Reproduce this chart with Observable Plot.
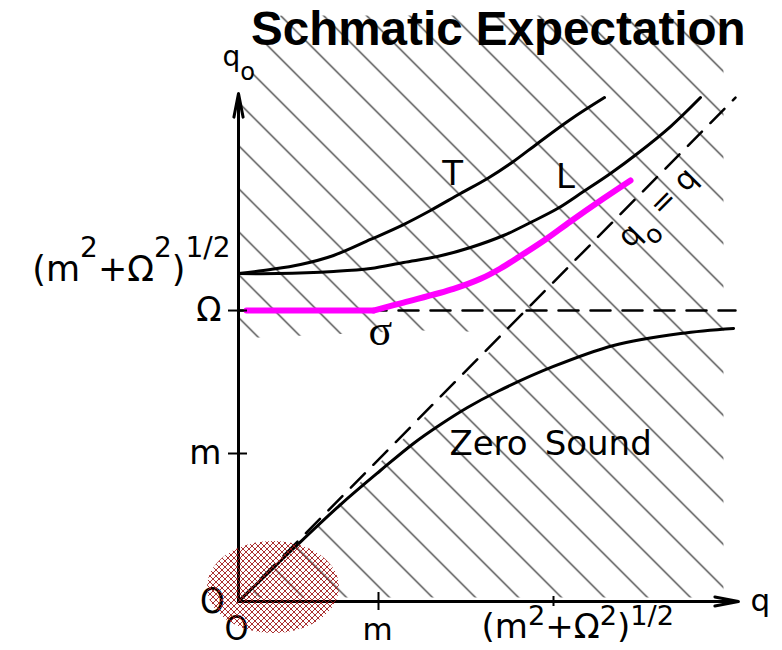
<!DOCTYPE html>
<html>
<head>
<meta charset="utf-8">
<script src="https://cdn.jsdelivr.net/npm/d3@7"></script>
<script src="https://cdn.jsdelivr.net/npm/@observablehq/plot@0.6"></script>
<style>
  html, body { margin: 0; padding: 0; background: #fff; }
  #wrap { position: relative; width: 782px; height: 650px; overflow: hidden; }
  #wrap svg { position: absolute; left: 0; top: 0; }
  #title {
    position: absolute; left: 251px; top: 5px; margin: 0; z-index: 2;
    font: bold 47.6px "Liberation Sans", Arial, sans-serif; line-height: 1;
    color: #000; white-space: nowrap;
  }
</style>
</head>
<body>
<div id="wrap"><h1 id="title">Schmatic Expectation</h1></div>
<script>
// Dispersion branches, momentum q (horizontal) vs energy q0 (vertical), both in units of m.
const transverse = [[0,2.216],[0.229,2.243],[0.443,2.277],[0.679,2.338],[0.943,2.446],[1.179,2.547],
  [1.371,2.642],[1.586,2.757],[1.779,2.858],[1.964,2.973],[2.136,3.095],[2.371,3.257],[2.614,3.405]];
const longitudinal = [[0,2.216],[0.279,2.216],[0.679,2.230],[0.943,2.250],[1.179,2.291],[1.421,2.331],
  [1.657,2.392],[1.893,2.473],[2.086,2.561],[2.279,2.655],[2.464,2.770],[2.657,2.892],[2.85,3.027],
  [3.086,3.209],[3.3,3.405]];
const sigmaMode = [[0.057,1.966],[0.964,1.966],[1.179,2.020],[1.536,2.112],[1.729,2.180],[1.871,2.250],
  [2.014,2.335],[2.193,2.446],[2.371,2.568],[2.607,2.723],[2.8,2.845]];
const zeroSound = [[0,0],[0.193,0.176],[0.393,0.358],[0.729,0.655],[1.014,0.885],[1.25,1.068],
  [1.443,1.196],[1.636,1.311],[1.85,1.419],[2.25,1.588],[2.679,1.730],[3.157,1.811],[3.536,1.845]];
const lightCone = [[0,0],[3.55,3.405]];          // q0 = q
const omegaLine = [[0,1.966],[3.55,1.966]];      // q0 = Ω
// Outline of the hatched (damped / continuum) region
const continuum = [[0,3.264],[0.086,3.554],[0.3,3.959],[3.464,3.959],[3.464,0.027],[0.057,0.027],
  [1.929,1.818],[1.3,1.831],[0,1.777]];
// Highlighted soft region at the origin
const blob = {q: 0.25, q0: 0.095, rq: 0.471, rq0: 0.311};

// Axis ticks and their labels
const yTicks = [1, 1.966, 2.216];
const yTickLabels = ["m", "Ω", "(m^{2}+Ω^{2})^{1/2}"];
const xTicks = [1, 2.25];
const xTickLabels = ["m", "(m^{2}+Ω^{2})^{1/2}"];
const axisEnd = {q: 3.571, q0: 3.432};

// Curve annotations
const annotations = [
  {q: 1.529, q0: 2.885, text: "T"},
  {q: 2.336, q0: 2.868, text: "L"},
  {q: 2.229, q0: 1.061, text: "Zero\u2002Sound"}
];
const sigmaLabel = [{q: 1.014, q0: 1.831, text: "σ"}];
const coneLabel = [{q: 2.993, q0: 2.662, text: "q_{o} = q"}];

const xDomain = [0, 1], xRange = [238, 378];
const yDomain = [0, 1], yRange = [601, 453];
const SANS = "DejaVu Sans, sans-serif";
const NARROW = "Liberation Sans Narrow, DejaVu Sans Condensed, sans-serif";
const px = d => d[0], py = d => d[1];

function patterns() {
  const defs = d3.create("svg:defs");
  defs.append("pattern").attr("id", "hatch").attr("patternUnits", "userSpaceOnUse")
    .attr("width", 43).attr("height", 43).attr("y", -7)
    .append("path").attr("d", "M-1,-1L44,44M42,-1L44,1M-1,42L1,44")
    .attr("stroke", "#111").attr("stroke-width", 1.1).attr("fill", "none");
  const x = defs.append("pattern").attr("id", "xhatch").attr("patternUnits", "userSpaceOnUse")
    .attr("width", 6).attr("height", 6);
  x.append("path").attr("d", "M-1,-1L7,7M5,-1L7,1M-1,5L1,7M7,-1L-1,7M1,-1L-1,1M7,5L5,7")
    .attr("stroke", "#a01a1a").attr("stroke-width", 0.9).attr("fill", "none");
  return defs.node();
}

function crosshatchBlob(index, scales) {
  const sx = scales && typeof scales.x === "function" ? scales.x : d3.scaleLinear(xDomain, xRange);
  const sy = scales && typeof scales.y === "function" ? scales.y : d3.scaleLinear(yDomain, yRange);
  return d3.create("svg:ellipse")
    .attr("cx", sx(blob.q)).attr("cy", sy(blob.q0))
    .attr("rx", Math.abs(sx(blob.q + blob.rq) - sx(blob.q)))
    .attr("ry", Math.abs(sy(blob.q0 + blob.rq0) - sy(blob.q0)))
    .attr("fill", "url(#xhatch)").node();
}

const yTickTable = yTicks.map((v, i) => ({v, label: yTickLabels[i]}));
const xTickTable = xTicks.map((v, i) => ({v, label: xTickLabels[i]}));
const dash = "20,12";
const arrowHead = {stroke: "#000", strokeWidth: 3, headAngle: 22, headLength: 12};

const chart = Plot.plot({
  width: 782, height: 650,
  marginTop: 0, marginRight: 0, marginBottom: 0, marginLeft: 0,
  x: {domain: xDomain, range: xRange, axis: null},
  y: {domain: yDomain, range: yRange, axis: null},
  style: {background: "white", overflow: "visible"},
  marks: [
    patterns,
    Plot.line(continuum, {x: px, y: py, fill: "url(#hatch)", stroke: "none"}),
    Plot.line(omegaLine, {x: px, y: py, stroke: "#000", strokeWidth: 2.5, strokeDasharray: dash}),
    Plot.line(lightCone, {x: px, y: py, stroke: "#000", strokeWidth: 2.5, strokeDasharray: dash}),
    Plot.line(transverse, {x: px, y: py, curve: "catmull-rom", stroke: "#000", strokeWidth: 3}),
    Plot.line(longitudinal, {x: px, y: py, curve: "catmull-rom", stroke: "#000", strokeWidth: 3}),
    Plot.line(zeroSound, {x: px, y: py, curve: "catmull-rom", stroke: "#000", strokeWidth: 3}),
    Plot.line(sigmaMode.slice(0, 2), {x: px, y: py, stroke: "#ff00ff", strokeWidth: 6}),
    Plot.line(sigmaMode.slice(1), {x: px, y: py, curve: "catmull-rom", stroke: "#ff00ff", strokeWidth: 6}),
    // axes with arrow heads
    Plot.arrow([axisEnd], {x1: 0, y1: 0, x2: d => d.q, y2: 0, ...arrowHead}),
    Plot.arrow([axisEnd], {x1: 0, y1: 0, x2: 0, y2: d => d.q0, ...arrowHead}),
    // tick marks
    Plot.ruleY(yTicks.slice(0, 2), {y: d => d, x1: 0, x2: 0, insetLeft: -10, insetRight: -9,
      stroke: "#000", strokeWidth: 2}),
    Plot.ruleX(xTicks.slice(0, 1), {x: d => d, y1: 0, y2: 0, insetTop: -9, insetBottom: -9,
      stroke: "#000", strokeWidth: 2}),
    Plot.ruleX(xTicks.slice(1), {x: d => d, y1: 0, y2: 0, insetTop: -5, insetBottom: -5,
      stroke: "#000", strokeWidth: 2}),
    // tick labels
    Plot.text(yTickTable.slice(0, 2), {x: 0, y: "v", text: "label", textAnchor: "end", dx: -17,
      fontSize: 33, fontFamily: SANS}),
    Plot.text(yTickTable.slice(2), {x: 0, y: "v", text: "label", textAnchor: "end", dx: -8, dy: -4,
      fontSize: 35, fontFamily: SANS, ariaDescription: "raise-high"}),
    Plot.text(xTickTable.slice(0, 1), {x: "v", y: 0, text: "label", dx: -1, dy: 29,
      fontSize: 31, fontFamily: SANS}),
    Plot.text(xTickTable.slice(1), {x: "v", y: 0, text: "label", textAnchor: "start", dx: -72, dy: 26,
      fontSize: 34, fontFamily: SANS, ariaDescription: "raise-low"}),
    Plot.text(["O"], {x: 0, y: 0, text: d => d, dx: -26, dy: 0, fontSize: 35, fontFamily: NARROW}),
    Plot.text(["O"], {x: 0, y: 0, text: d => d, dx: -2, dy: 28, fontSize: 34, fontFamily: NARROW}),
    // axis names
    Plot.text([axisEnd], {x: d => d.q, y: 0, text: () => "q", textAnchor: "start", dx: 12,
      fontSize: 31, fontFamily: SANS}),
    Plot.text([axisEnd], {x: 0, y: d => d.q0, text: () => "q_{o}", textAnchor: "start", dx: -16, dy: -37,
      fontSize: 28, fontFamily: SANS}),
    // curve annotations
    Plot.text(annotations, {x: "q", y: "q0", text: "text", fontSize: 34, fontFamily: SANS}),
    Plot.text(sigmaLabel, {x: "q", y: "q0", text: "text", fontSize: 44,
      fontFamily: "Liberation Serif, serif"}),
    Plot.text(coneLabel, {x: "q", y: "q0", text: "text", rotate: -45, fontSize: 30, fontFamily: SANS}),
    crosshatchBlob
  ]
});

document.getElementById("wrap").prepend(chart);

// Turn ^{...} and _{...} markup into raised / lowered tspans
chart.querySelectorAll("text").forEach(t => {
  const s = t.textContent;
  if (!/[\^_]\{/.test(s)) return;
  const F = parseFloat(getComputedStyle(t).fontSize) || 30;
  const host = t.closest("[aria-description]");
  const low = host && host.getAttribute("aria-description") === "raise-low";
  const raise = low ? 0.4 : 0.68;
  t.textContent = "";
  let shift = 0;
  const add = (str, target, size) => {
    if (!str) return;
    const ts = document.createElementNS("http://www.w3.org/2000/svg", "tspan");
    ts.textContent = str;
    const d = target - shift;
    if (d) ts.setAttribute("dy", d);
    shift = target;
    if (size) ts.setAttribute("font-size", size);
    t.appendChild(ts);
  };
  const re = /([\^_])\{([^}]*)\}/g;
  let last = 0, m;
  while ((m = re.exec(s))) {
    add(s.slice(last, m.index), 0);
    if (m[1] === "^") add(m[2], -raise * F, 0.8 * F);
    else add(m[2], 0.5 * F, 0.86 * F);
    last = re.lastIndex;
  }
  add(s.slice(last), 0);
});
</script>
</body>
</html>
